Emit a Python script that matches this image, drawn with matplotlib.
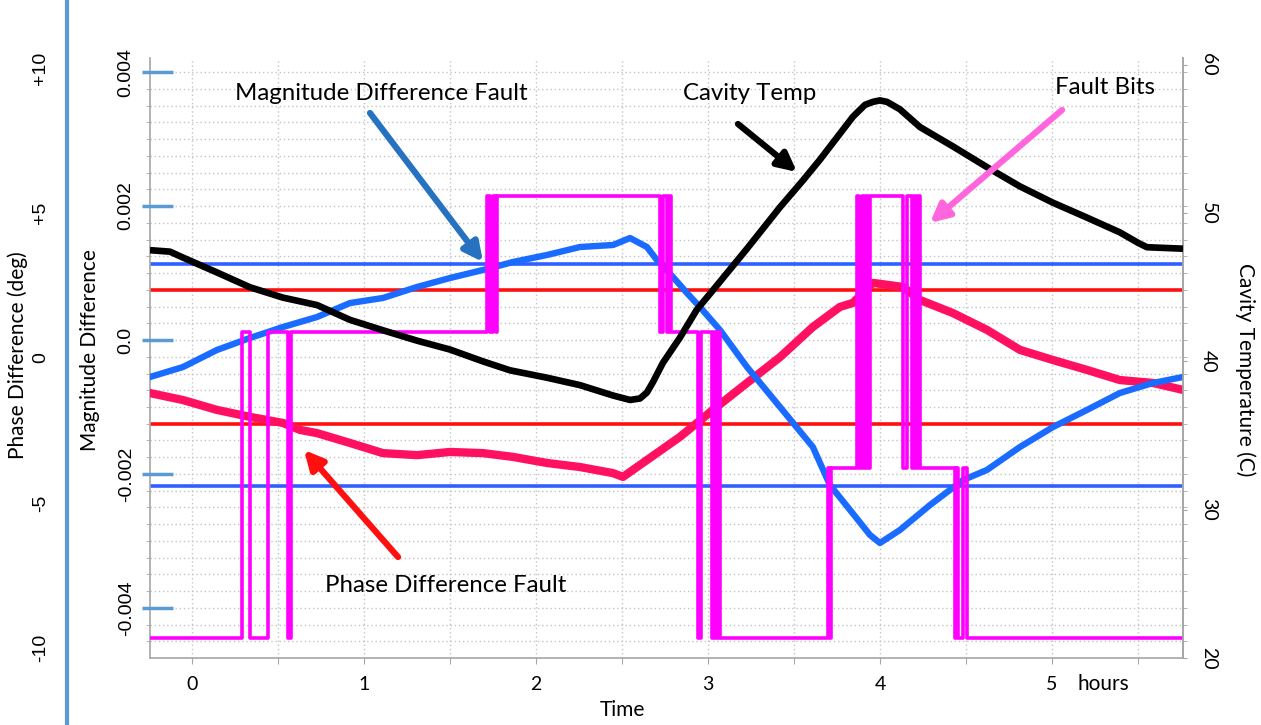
import matplotlib
matplotlib.use("Agg")
import matplotlib.pyplot as plt
import matplotlib.patches
import matplotlib.transforms as mtransforms
from matplotlib.ticker import FixedLocator, MultipleLocator, FuncFormatter

# ---------------- data ----------------
temp_t = [-0.244, -0.128, -0.052, 0.145, 0.337, 0.529, 0.727, 0.919, 1.110, 1.308, 1.500,
          1.692, 1.849, 2.064, 2.256, 2.448, 2.547, 2.605, 2.645, 2.680, 2.738, 2.837,
          2.936, 3.029, 3.227, 3.419, 3.552, 3.651, 3.843, 3.913, 3.959, 4.000, 4.041,
          4.116, 4.233, 4.424, 4.622, 4.814, 5.006, 5.203, 5.395, 5.500, 5.552, 5.762]
temp_c = [47.5, 47.4, 47.0, 46.0, 45.0, 44.3, 43.8, 42.8, 42.1, 41.4, 40.8,
          40.0, 39.4, 38.9, 38.4, 37.7, 37.4, 37.5, 37.9, 38.6, 39.9, 41.6,
          43.5, 44.8, 47.6, 50.4, 52.2, 53.6, 56.5, 57.3, 57.5, 57.6, 57.5,
          57.0, 55.8, 54.5, 53.1, 51.8, 50.7, 49.7, 48.7, 48.0, 47.7, 47.6]

mag_t = [-0.244, -0.052, 0.145, 0.337, 0.529, 0.727, 0.919, 1.110, 1.308, 1.500, 1.692,
         1.866, 2.064, 2.256, 2.448, 2.547, 2.645, 2.703, 2.797, 2.878, 2.953, 3.070,
         3.227, 3.419, 3.610, 3.709, 3.826, 3.942, 4.000, 4.116, 4.291, 4.483, 4.622,
         4.814, 5.006, 5.203, 5.395, 5.587, 5.762]
mag_val = [-0.552, -0.403, -0.149, 0.030, 0.194, 0.343, 0.552, 0.627, 0.791, 0.925, 1.045,
           1.164, 1.269, 1.388, 1.418, 1.522, 1.388, 1.194, 0.940, 0.701, 0.493, 0.149,
           -0.403, -1.000, -1.597, -2.164, -2.537, -2.910, -3.030, -2.836, -2.463, -2.090, -1.940,
           -1.597, -1.299, -1.045, -0.791, -0.642, -0.552]   # x 1e-3

phase_t = [-0.244, -0.052, 0.145, 0.337, 0.529, 0.628, 0.727, 0.919, 1.110, 1.308, 1.500,
           1.692, 1.866, 2.064, 2.256, 2.448, 2.506, 2.645, 2.837, 3.029, 3.227, 3.419,
           3.610, 3.767, 3.843, 3.959, 4.134, 4.233, 4.424, 4.622, 4.814, 5.006, 5.203,
           5.395, 5.587, 5.762]
phase_deg = [-1.21, -1.45, -1.79, -2.03, -2.24, -2.48, -2.59, -2.93, -3.28, -3.35, -3.24,
             -3.28, -3.41, -3.62, -3.76, -3.97, -4.10, -3.52, -2.72, -1.79, -0.86, 0.03,
             1.07, 1.76, 1.90, 2.59, 2.45, 2.00, 1.55, 0.97, 0.28, -0.07, -0.41,
             -0.76, -0.86, -1.10]

# fault-bit state: 0 = none, 1 = phase fault, 2 = magnitude fault, 3 = both
fault_t = [-0.244, 0.291, 0.337, 0.442, 0.558, 0.576,
           1.715, 1.733, 1.750, 1.765, 1.773,
           2.721, 2.738, 2.762, 2.775, 2.785,
           2.942, 2.959, 3.023, 3.035, 3.047, 3.058, 3.070,
           3.698, 3.707, 3.715,
           3.866, 3.878, 3.895, 3.905, 3.919, 3.930, 3.942,
           4.134, 4.157, 4.186, 4.198, 4.209, 4.222, 4.233,
           4.436, 4.445, 4.453, 4.483, 4.506, 5.762]
fault_state = [0, 1, 0, 1, 0, 1,
               3, 1, 3, 1, 3,
               1, 3, 1, 3, 1,
               0, 1, 0, 1, 0, 1, 0,
               2, 0, 2,
               3, 2, 3, 2, 3, 2, 3,
               2, 3, 2, 3, 2, 3, 2,
               0, 2, 0, 2, 0, 0]
state_level = [-4.448e-3, 0.119e-3, -1.910e-3, 2.149e-3]

mag_thresholds = [1.134e-3, -2.18e-3]
phase_thresholds = [2.34, -2.28]

mag_ticks = [-0.004, -0.002, 0.0, 0.002, 0.004]
mag_ticklabels = ["-0.004", "-0.002", "0.0", "0.002", "0.004"]
phase_ticks = [-10, -5, 0, 5, 10]
phase_ticklabels = ["-10", "-5", "0", "+5", "+10"]
temp_ticks = [20, 30, 40, 50, 60]
time_ticks = [0, 1, 2, 3, 4, 5]

# ---------------- figure ----------------
W, H = 1261, 725
fig = plt.figure(figsize=(W / 100, H / 100), dpi=100)
L, R, T, B = 150, 1183, 58, 658
ax = fig.add_axes([L / W, (H - B) / H, (R - L) / W, (B - T) / H])
ax.set_xlim(-0.244, 5.762)
ax.set_ylim(-0.0047463, 0.0042090)

UI = ["Lato", "DejaVu Sans"]
NUM = ["Liberation Sans", "DejaVu Sans"]
grey = "#a6a6a6"

ax.spines["top"].set_visible(False)
for s in ["left", "bottom", "right"]:
    ax.spines[s].set_color(grey)
    ax.spines[s].set_linewidth(1.2)

ax.xaxis.set_major_locator(MultipleLocator(0.5))
ax.xaxis.set_major_formatter(FuncFormatter(
    lambda v, p: "%d" % round(v) if abs(v - round(v)) < 1e-6 and round(v) in time_ticks else ""))
ax.tick_params(axis="x", which="major", length=4, color=grey, pad=9, labelsize=14)
for lab in ax.get_xticklabels():
    lab.set_family(UI)

ax.set_yticks(mag_ticks)
ax.set_yticklabels(mag_ticklabels, rotation=90, va="center", family=NUM, fontsize=14)
ax.yaxis.set_minor_locator(MultipleLocator(0.00025))
ax.tick_params(axis="y", which="major", length=0, pad=11)
ax.tick_params(axis="y", which="minor", length=3, color=grey)
ax.grid(which="both", color="#c4c4c4", linestyle=(0, (1, 2)), linewidth=1)
ax.set_axisbelow(True)

# blue tick marks on the magnitude axis
blend = mtransforms.blended_transform_factory(ax.transAxes, ax.transData)
for v in mag_ticks:
    ax.plot([-8 / (R - L), 23 / (R - L)], [v, v], transform=blend, color="#5b9bd5",
            lw=2.5, clip_on=False, zorder=6, solid_capstyle="butt")

# thresholds
for v in mag_thresholds:
    ax.axhline(v, color="#2f5fff", lw=2.6, zorder=2)
ph_tr = mtransforms.Affine2D().scale(1, 29 / 67000).translate(0, -18 / 67000) + ax.transData
for v in phase_thresholds:
    ax.plot([-0.244, 5.762], [v, v], transform=ph_tr, color="#ff1010", lw=2.6, zorder=2)

# phase curve (degrees, drawn on phase scale)
ax.plot(phase_t, phase_deg, transform=ph_tr, color="#ff1060", lw=6, zorder=3,
        solid_joinstyle="round")
# magnitude curve
ax.plot(mag_t, [v * 1e-3 for v in mag_val], color="#1a6bff", lw=4.6, zorder=4,
        solid_joinstyle="round")
# fault bits
ax.step(fault_t, [state_level[s] for s in fault_state], where="post",
        color="#ff00ff", lw=2.6, zorder=5)

# temperature axis
axT = ax.twinx()
axT.set_ylim(20, 20 + 600 / 14.83)
for s in ["top", "left", "bottom"]:
    axT.spines[s].set_visible(False)
axT.spines["right"].set_color(grey)
axT.spines["right"].set_linewidth(1.2)
axT.set_yticks(temp_ticks)
axT.set_yticklabels([str(v) for v in temp_ticks], rotation=270, va="center",
                    family=UI, fontsize=14)
lo, hi = ax.get_ylim()
tlo, thi = axT.get_ylim()
minor_T = [tlo + (k * 0.00025 - lo) / (hi - lo) * (thi - tlo) for k in range(-18, 17)]
axT.yaxis.set_minor_locator(FixedLocator(minor_T))
axT.tick_params(axis="y", which="major", length=3, color=grey, pad=9)
axT.tick_params(axis="y", which="minor", length=3, color=grey)
axT.plot(temp_t, temp_c, color="black", lw=4.8, zorder=6, solid_joinstyle="round",
         solid_capstyle="butt")

# phase axis at far left
axP = fig.add_axes([67 / W, 0, 0.0004, 1])
axP.set_ylim(-12.655, 12.345)
axP.set_xticks([])
axP.patch.set_visible(False)
for s in ["top", "bottom", "right"]:
    axP.spines[s].set_visible(False)
axP.spines["left"].set_color("#5b9bd5")
axP.spines["left"].set_linewidth(3)
axP.set_yticks(phase_ticks)
axP.set_yticklabels(phase_ticklabels, rotation=90, va="center", family=NUM, fontsize=14)
axP.tick_params(axis="y", length=0, pad=13)


def ftext(x, y, s, **kw):
    fig.text(x / W, 1 - y / H, s, **kw)


ftext(18, 355, "Phase Difference (deg)", rotation=90, ha="center", va="center",
      family=UI, fontsize=15)
ftext(90, 350, "Magnitude Difference", rotation=90, ha="center", va="center",
      family=UI, fontsize=15)
ftext(1245, 370, "Cavity Temperature (C)", rotation=270, ha="center", va="center",
      family=UI, fontsize=15)
ftext(622, 710, "Time", ha="center", va="center", family=UI, fontsize=15)
ftext(1103, 684, "hours", ha="center", va="center", family=UI, fontsize=15)

# annotations
ftext(235, 93, "Magnitude Difference Fault", ha="left", va="center", family=UI, fontsize=17.3)
ftext(683, 93, "Cavity Temp", ha="left", va="center", family=UI, fontsize=17.3)
ftext(1055, 88, "Fault Bits", ha="left", va="center", family=UI, fontsize=17.3)
ftext(325, 585, "Phase Difference Fault", ha="left", va="center", family=UI, fontsize=17.3)


def arrow(x1, y1, x2, y2, color):
    fig.add_artist(matplotlib.patches.FancyArrowPatch(
        (x1 / W, 1 - y1 / H), (x2 / W, 1 - y2 / H), transform=fig.transFigure,
        arrowstyle="-|>", mutation_scale=28, lw=4.5, color=color, zorder=10,
        shrinkA=0, shrinkB=0))


arrow(370, 113, 483, 262, "#2672c0")
arrow(738, 124, 797, 172, "black")
arrow(1062, 110, 930, 223, "#ff66dd")
arrow(398, 557, 304, 450, "#ff1010")

fig.savefig("out.png", dpi=100)
